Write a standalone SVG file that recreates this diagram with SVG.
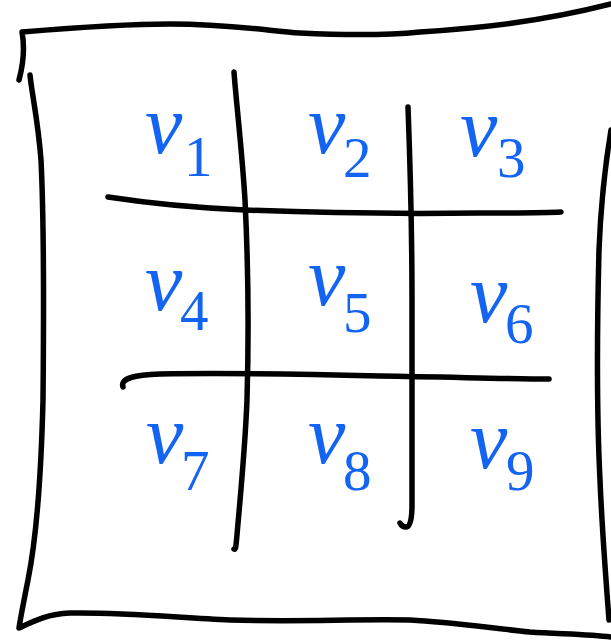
<svg xmlns="http://www.w3.org/2000/svg" width="611" height="642" viewBox="0 0 611 642">
<style>
.s{fill:none;stroke:#000;stroke-width:5.5;stroke-linecap:round;stroke-linejoin:round}
.v{font-family:"Liberation Serif","Times New Roman",serif;font-style:italic;font-size:84px;fill:#1464f4}
.d{font-family:"Liberation Serif","Times New Roman",serif;font-size:57px;fill:#1464f4}
</style>
<rect width="611" height="642" fill="#fff"/>
<g id="frame">
<path class="s" d="M19,80 C23,65 25,48 22,32 C70,28 120,24 170,24 C230,24 270,31 300,33 C340,35 380,36 420,32 C480,28 540,22 611,4"/>
<path class="s" d="M30,75 C32,95 38,120 41,160 C44,220 44,300 43,400 C41,480 36,540 28,580 C24,600 21,615 19,628 C30,623 45,614 70,613 C120,612 170,617 230,620 C300,622 350,619 410,620 C450,622 490,628 530,632 C560,634 590,634 611,637"/>
<path class="s" d="M611,130 C606,160 601,200 599,250 C597,330 597,420 600,480 C602,530 606,580 609,620"/>
</g>
<g id="grid">
<path class="s" d="M108,197 C160,205 200,208 245,210 C320,213 400,214 480,213 C520,213 545,213 561,212"/>
<path class="s" d="M123,387 C120,378 135,375 160,374 C220,373 300,374 380,376 C450,377 510,379 549,379"/>
<path class="s" d="M234,72 C236,100 242,150 245,200 C248,260 249,330 247,400 C245,450 240,500 237,535 C236,545 236,550 234,549"/>
<path class="s" d="M408,107 C410,160 412,220 412,300 C412,380 412,450 412,505 C412,520 410,527 406,527 C403,527 401,525 400,523"/>
</g>
<g id="v1"><text class="v" x="145" y="153">v</text><text class="d" x="184" y="176">1</text></g>
<g id="v2"><text class="v" x="308" y="153">v</text><text class="d" x="343" y="177">2</text></g>
<g id="v3"><text class="v" x="460" y="156">v</text><text class="d" x="497" y="177">3</text></g>
<g id="v4"><text class="v" x="145" y="310">v</text><text class="d" x="180" y="330">4</text></g>
<g id="v5"><text class="v" x="308" y="305">v</text><text class="d" x="343" y="332">5</text></g>
<g id="v6"><text class="v" x="470" y="322">v</text><text class="d" x="505" y="343">6</text></g>
<g id="v7"><text class="v" x="146" y="463">v</text><text class="d" x="181" y="490">7</text></g>
<g id="v8"><text class="v" x="308" y="463">v</text><text class="d" x="343" y="490">8</text></g>
<g id="v9"><text class="v" x="470" y="468">v</text><text class="d" x="506" y="490">9</text></g>
</svg>
